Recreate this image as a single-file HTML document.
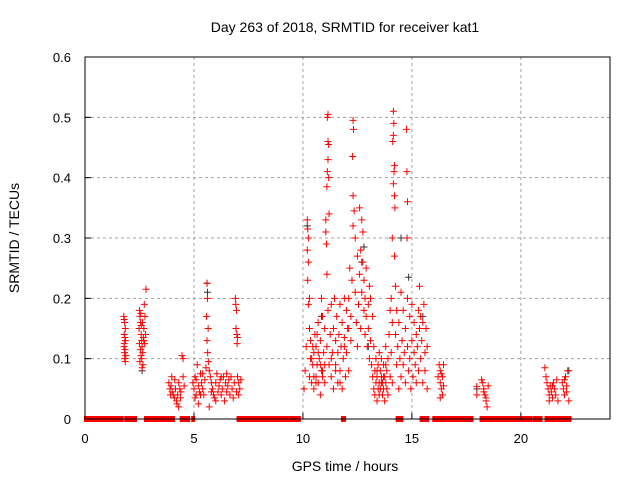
<!DOCTYPE html>
<html><head><meta charset="utf-8"><style>
html,body{margin:0;padding:0;background:#fff;}
svg{display:block;font-family:"Liberation Sans",sans-serif;}
</style></head><body>
<svg id="chart" width="640" height="480" viewBox="0 0 640 480">
<text x="345" y="32" text-anchor="middle" font-size="14">Day 263 of 2018, SRMTID for receiver kat1</text>
<text x="345" y="471" text-anchor="middle" font-size="14">GPS time / hours</text>
<text transform="translate(19,238) rotate(-90)" text-anchor="middle" font-size="14">SRMTID / TECUs</text>
<g id="grid"></g><g id="marks"></g><g id="axes"></g>
</svg>
<script>
const xTicks=[0,5,10,15,20];
const yTicks=[0,0.1,0.2,0.3,0.4,0.5,0.6];
const yTickLabels=["0","0.1","0.2","0.3","0.4","0.5","0.6"];
const zeroRuns=[[0,1.06],[1.11,1.73],[1.85,2.34],[2.75,3.76],[3.85,4.08],[4.39,4.78],[4.92,5.01],[7.0,9.86],[11.79,11.93],[14.3,14.56],[15.4,15.75],[15.98,17.78],[18.15,20.5],[20.6,20.69],[20.73,20.95],[21.13,21.48],[21.55,21.64],[21.68,22.28]];
const hours=[1.78,1.8,1.82,1.85,1.8,1.83,1.86,1.79,1.84,1.81,1.87,1.82,1.85,1.8,
2.5,2.52,2.55,2.48,2.58,2.6,2.5,2.62,2.55,2.65,2.57,2.6,2.52,2.66,2.62,2.7,2.72,2.75,2.8,2.78,2.68,2.74,2.56,2.64,2.7,2.58,
3.85,3.9,3.95,4.0,4.05,4.1,3.92,4.15,4.2,4.25,4.3,4.35,4.4,4.45,4.5,4.38,4.22,4.12,4.3,4.55,4.5,3.98,
4.95,5.0,5.05,5.1,5.15,5.05,5.1,5.2,5.25,5.3,5.35,5.4,5.45,5.5,5.55,5.6,5.62,5.58,5.65,5.6,5.63,5.66,5.7,5.75,5.8,5.85,5.9,5.95,6.0,6.05,6.1,6.15,6.2,6.25,6.3,6.35,6.4,6.45,6.5,6.55,6.6,6.65,6.7,6.75,6.8,6.9,6.92,6.95,6.93,6.97,7.0,6.98,7.0,7.05,7.1,7.15,6.85,6.95,7.05,5.2,5.7,6.0,5.4,6.5,5.3,5.8,6.25,
10.05,10.1,10.15,10.2,10.22,10.25,10.2,10.25,10.22,10.3,10.25,10.3,10.35,10.3,10.4,10.35,10.45,10.5,10.5,10.55,10.6,10.6,10.65,10.7,10.7,10.75,10.8,10.8,10.85,10.9,10.9,10.95,11.0,11.0,11.05,11.05,11.08,11.1,11.1,11.15,11.12,11.15,11.18,11.15,11.12,11.18,11.1,11.2,11.15,11.2,11.25,11.3,11.3,11.35,11.4,11.45,11.4,11.5,11.5,11.55,11.6,11.6,11.65,11.7,11.7,11.75,11.8,11.8,11.85,11.9,11.9,11.95,12.0,12.0,12.05,12.1,12.1,12.15,12.2,12.2,12.25,12.3,12.32,12.28,12.3,12.35,12.3,12.4,12.4,12.45,12.5,12.5,12.55,12.6,12.6,12.65,12.65,12.7,12.7,12.75,12.75,12.8,12.8,12.85,12.85,12.9,12.9,12.95,13.0,13.0,13.05,13.05,13.1,13.1,13.15,13.2,13.2,13.25,13.25,13.3,13.3,13.35,13.35,13.4,13.4,13.45,13.45,13.5,13.5,13.55,13.55,13.6,13.6,13.65,13.65,13.7,13.7,13.75,13.75,13.8,13.8,13.85,13.85,13.9,13.9,13.95,14.0,14.0,14.05,14.05,14.1,14.1,14.15,14.17,14.15,14.12,14.2,14.18,14.15,14.2,14.22,14.1,14.2,14.25,14.25,14.3,14.3,14.35,14.4,14.4,14.45,14.5,14.5,14.55,14.6,14.6,14.65,14.7,14.7,14.75,14.77,14.8,14.78,14.8,14.8,14.85,14.9,14.9,14.95,15.0,15.0,15.05,15.1,15.1,15.15,15.2,15.2,15.25,15.3,15.3,15.35,15.35,15.4,15.4,15.45,15.5,15.5,15.55,15.6,15.6,15.65,15.7,15.7,
10.4,10.5,10.6,10.7,10.8,10.9,11.0,10.45,10.65,10.85,11.3,11.5,11.7,11.9,12.1,13.4,13.6,13.8,13.5,13.7,
16.2,16.25,16.3,16.3,16.35,16.4,16.4,16.45,16.35,16.3,16.45,
17.98,17.98,18.2,18.25,18.3,18.35,18.4,18.45,18.5,18.3,18.4,
21.1,21.15,21.2,21.25,21.3,21.35,21.4,21.45,21.5,21.55,21.6,21.65,21.7,21.3,21.45,21.9,21.95,22.0,22.05,22.1,22.15,22.2,22.1,22.0];
const srmtid=[0.17,0.165,0.16,0.15,0.14,0.135,0.13,0.12,0.115,0.11,0.105,0.1,0.095,0.125,
0.18,0.17,0.16,0.15,0.14,0.13,0.125,0.12,0.115,0.11,0.105,0.1,0.095,0.09,0.085,0.15,0.19,0.17,0.215,0.14,0.135,0.125,0.175,0.16,0.13,0.155,
0.06,0.05,0.055,0.045,0.04,0.035,0.04,0.05,0.03,0.04,0.06,0.05,0.045,0.105,0.1,0.035,0.025,0.065,0.02,0.055,0.07,0.07,
0.06,0.05,0.07,0.04,0.09,0.035,0.065,0.055,0.045,0.075,0.06,0.05,0.04,0.065,0.085,0.225,0.2,0.17,0.15,0.13,0.11,0.095,0.08,0.07,0.06,0.05,0.04,0.035,0.06,0.075,0.045,0.055,0.065,0.04,0.05,0.07,0.03,0.06,0.045,0.055,0.065,0.04,0.07,0.05,0.035,0.2,0.19,0.18,0.15,0.14,0.135,0.125,0.07,0.06,0.05,0.065,0.06,0.045,0.04,0.025,0.02,0.03,0.075,0.075,0.04,0.045,0.07,
0.05,0.08,0.12,0.33,0.315,0.3,0.28,0.26,0.23,0.2,0.19,0.15,0.1,0.07,0.06,0.13,0.09,0.11,0.05,0.14,0.07,0.12,0.09,0.16,0.06,0.1,0.13,0.04,0.2,0.08,0.17,0.11,0.15,0.06,0.33,0.31,0.29,0.24,0.12,0.505,0.5,0.46,0.455,0.43,0.41,0.4,0.385,0.34,0.18,0.09,0.14,0.07,0.19,0.11,0.15,0.2,0.05,0.09,0.13,0.17,0.06,0.11,0.14,0.08,0.19,0.12,0.05,0.16,0.1,0.2,0.135,0.07,0.18,0.11,0.15,0.08,0.2,0.25,0.13,0.17,0.23,0.495,0.48,0.435,0.37,0.345,0.32,0.3,0.21,0.16,0.27,0.12,0.19,0.35,0.24,0.28,0.15,0.33,0.21,0.31,0.26,0.18,0.23,0.14,0.2,0.17,0.25,0.12,0.19,0.15,0.22,0.1,0.13,0.2,0.09,0.17,0.07,0.05,0.12,0.04,0.08,0.06,0.1,0.03,0.07,0.05,0.09,0.06,0.04,0.08,0.05,0.07,0.1,0.04,0.06,0.09,0.05,0.07,0.03,0.06,0.12,0.08,0.05,0.1,0.04,0.14,0.07,0.18,0.11,0.2,0.16,0.06,0.51,0.49,0.47,0.46,0.42,0.41,0.39,0.37,0.35,0.3,0.27,0.22,0.14,0.09,0.18,0.12,0.05,0.16,0.1,0.21,0.07,0.13,0.18,0.09,0.11,0.06,0.15,0.48,0.41,0.36,0.3,0.2,0.12,0.08,0.17,0.1,0.05,0.13,0.19,0.07,0.11,0.16,0.09,0.14,0.06,0.12,0.18,0.08,0.22,0.15,0.1,0.17,0.13,0.16,0.06,0.19,0.11,0.08,0.15,0.12,0.05,
0.1,0.07,0.06,0.11,0.09,0.07,0.09,0.12,0.14,0.08,0.1,0.08,0.06,0.12,0.15,0.08,0.06,0.09,0.11,0.07,
0.07,0.09,0.08,0.06,0.05,0.07,0.04,0.09,0.075,0.035,0.055,
0.054,0.04,0.065,0.06,0.05,0.04,0.03,0.02,0.055,0.045,0.035,
0.085,0.07,0.06,0.05,0.04,0.055,0.045,0.035,0.06,0.05,0.04,0.065,0.03,0.03,0.055,0.06,0.05,0.04,0.07,0.055,0.08,0.03,0.045,0.065];
const hoursK=[2.62,5.6,5.62,10.2,10.85,12.8,12.7,14.5,14.85,17.98,22.2,15.5,13.0];
const srmtidK=[0.08,0.225,0.21,0.32,0.17,0.285,0.26,0.3,0.235,0.05,0.08,0.17,0.12];

const L=85,R=610,T=57,B=419,XMAX=24.09,YMAX=0.6;
const X=h=>L+(R-L)*h/XMAX;
const Y=v=>B-(B-T)*v/YMAX;
const NS="http://www.w3.org/2000/svg";
function mk(tag,attrs,parent){const e=document.createElementNS(NS,tag);for(const k in attrs)e.setAttribute(k,attrs[k]);parent.appendChild(e);return e;}
const grid=document.getElementById('grid'),marks=document.getElementById('marks'),axes=document.getElementById('axes');
xTicks.forEach(t=>{
  if(t>0){const g=mk('line',{x1:X(t),x2:X(t),y1:T,y2:B,stroke:'#a0a0a0','stroke-dasharray':'3,3'},grid);
  
  }
  const tk=mk('line',{x1:X(t),x2:X(t),y1:B,y2:B-6,stroke:'#000'},axes);
  
  
  const lb=mk('text',{x:X(t),y:443,'text-anchor':'middle','font-size':'13'},axes);lb.textContent=t;
  
  
});
yTicks.forEach((t,i)=>{
  if(t>0&&t<YMAX){const g=mk('line',{x1:L,x2:R,y1:Y(t),y2:Y(t),stroke:'#a0a0a0','stroke-dasharray':'3,3'},grid);
  
  }
  const tk=mk('line',{x1:L,x2:L+6,y1:Y(t),y2:Y(t),stroke:'#000'},axes);
  
  
  const lb=mk('text',{x:71,y:Y(t)+5,'text-anchor':'end','font-size':'13'},axes);lb.textContent=yTickLabels[i];
  
  
});
const frame=mk('rect',{x:L,y:T,width:R-L,height:B-T,fill:'none',stroke:'#000'},axes);


function plus(x,y,c,name){const p=mk('path',{d:`M${x-3.5},${y}h7M${x},${y-3.5}v7`,stroke:c,'stroke-width':'1',fill:'none'},marks);
  
  }
hoursK.forEach((h,i)=>plus(X(h),Y(srmtidK[i]),'#333','black-point'));
zeroRuns.forEach(r=>{const e=mk('rect',{x:X(r[0])-1,y:B-3,width:X(r[1])-X(r[0])+2,height:6,fill:'#ff0000'},marks);
  
  });
hours.forEach((h,i)=>plus(X(h),Y(srmtid[i]),'#ff0000','srmtid-point'));
</script>
</body></html>
